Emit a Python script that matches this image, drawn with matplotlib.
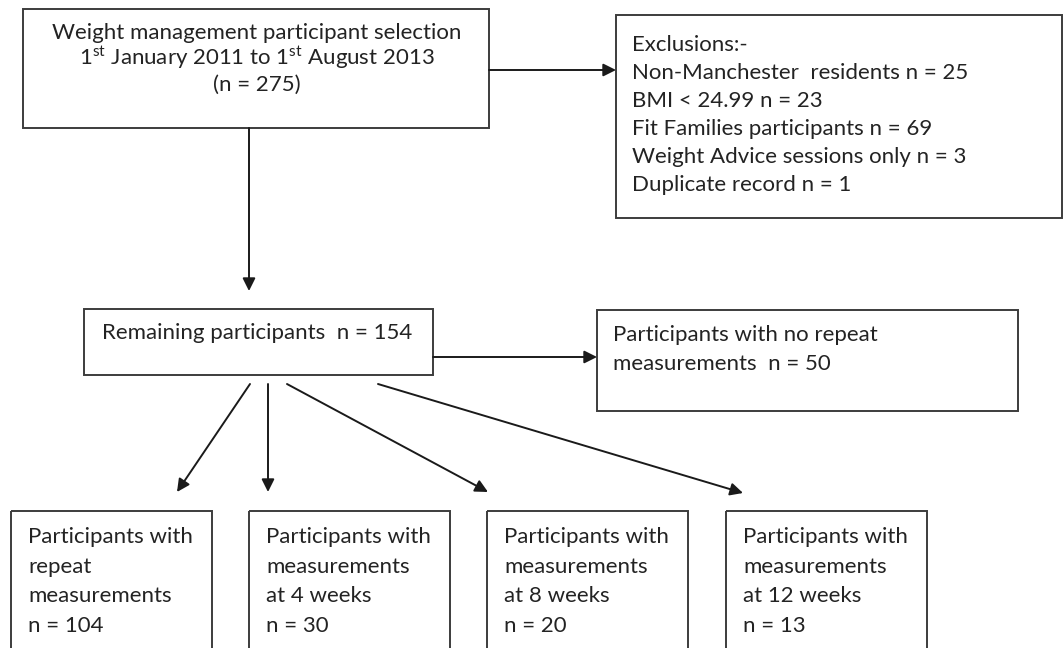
import matplotlib

matplotlib.use("Agg")

import matplotlib.pyplot as plt
from matplotlib.patches import Rectangle

plt.rcParams["font.family"] = ["Lato", "DejaVu Sans"]
plt.rcParams["mathtext.fontset"] = "custom"
plt.rcParams["mathtext.rm"] = "Lato"
plt.rcParams["mathtext.it"] = "Lato:italic"
plt.rcParams["mathtext.bf"] = "Lato:bold"

# flow chart content
start_title = "Weight management participant selection"
start_period = r"1$^{\mathrm{st}}$ January 2011 to 1$^{\mathrm{st}}$ August 2013"
start_n = 275

exclusion_labels = ["Non-Manchester  residents", "BMI < 24.99", "Fit Families participants",
                    "Weight Advice sessions only", "Duplicate record"]
exclusion_counts = [25, 23, 69, 3, 1]

remaining_n = 154
no_repeat_n = 50

followup_labels = [["Participants with", "repeat", "measurements"],
                   ["Participants with", "measurements", "at 4 weeks"],
                   ["Participants with", "measurements", "at 8 weeks"],
                   ["Participants with", "measurements", "at 12 weeks"]]
followup_counts = [104, 30, 20, 13]

TXT = "#232323"
EDGE = "#3c3c3c"
FS = 16

fig = plt.figure(figsize=(10.64, 6.48), dpi=100)
ax = fig.add_axes([0, 0, 1, 1])
ax.set_xlim(0, 1064)
ax.set_ylim(648, 0)
ax.axis("off")


def box(x0, y0, x1, y1):
    ax.add_patch(Rectangle((x0, y0), x1 - x0, y1 - y0, fill=False,
                           edgecolor=EDGE, linewidth=1.4, clip_on=True))


def arrow(x0, y0, x1, y1):
    ax.annotate("", xy=(x1, y1), xytext=(x0, y0),
                arrowprops=dict(arrowstyle="-|>", color="#1a1a1a", lw=1.4,
                                mutation_scale=19, shrinkA=0, shrinkB=0))


def lines(x, y, rows, step):
    for i, row in enumerate(rows):
        ax.text(x, y + i * step, row, fontsize=FS, color=TXT, ha="left", va="center")


# top box
box(23, 9, 489, 128)
ax.text(257, 33, start_title, fontsize=FS, color=TXT, ha="center", va="center")
ax.text(257, 58, start_period, fontsize=FS, color=TXT, ha="center", va="center")
ax.text(257, 85, f"(n = {start_n})", fontsize=FS, color=TXT, ha="center", va="center")

# exclusions
box(616, 15, 1062, 218)
excl_rows = ["Exclusions:-"] + [f"{l} n = {c}" for l, c in zip(exclusion_labels, exclusion_counts)]
lines(632, 45, excl_rows, 28)
arrow(489, 70, 616, 70)

# remaining
arrow(249, 128, 249, 291)
box(84, 309, 433, 375)
ax.text(102, 333, f"Remaining participants  n = {remaining_n}", fontsize=FS, color=TXT,
        ha="left", va="center")

# no repeat
arrow(433, 357, 597, 357)
box(597, 310, 1018, 411)
lines(613, 335, ["Participants with no repeat", f"measurements  n = {no_repeat_n}"], 29)

# follow-up boxes
box_lefts = [11, 249, 487, 726]
box_width = 201
starts = [(250, 384), (268, 384), (287, 384), (378, 384)]
tips = [(177, 492), (268, 492), (488, 492), (743, 493)]
for i, (rows, n) in enumerate(zip(followup_labels, followup_counts)):
    x0 = box_lefts[i]
    box(x0, 511, x0 + box_width, 670)
    lines(x0 + 17, 537, rows + [f"n = {n}"], 29.6)
    arrow(starts[i][0], starts[i][1], tips[i][0], tips[i][1])

fig.savefig("out.png", dpi=100, facecolor="white")
